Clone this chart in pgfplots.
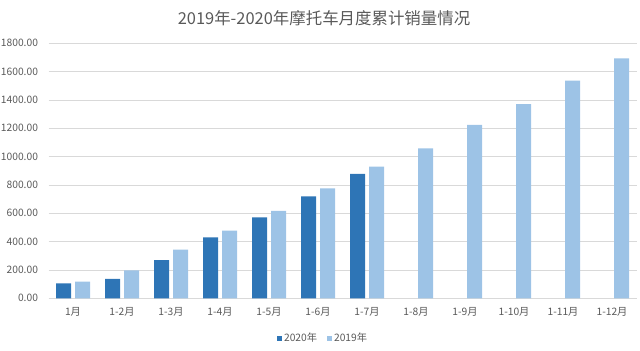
\documentclass[border=0pt]{standalone}
\usepackage{pgfplots}
\pgfplotsset{compat=1.18}
\usepackage{fontspec}
\setmainfont{Noto Sans CJK SC}
\definecolor{cA}{HTML}{2E75B6}
\definecolor{cB}{HTML}{9DC3E6}
\definecolor{txt}{HTML}{595959}
\definecolor{gridc}{HTML}{D9D9D9}
\begin{document}
\begin{tikzpicture}[x=1bp,y=1bp]
\useasboundingbox (0,0) rectangle (640,350);
\node[text=txt, font=\fontsize{16.5}{19}\selectfont] at (324,332) {2019年-2020年摩托车月度累计销量情况};
\begin{axis}[
  at={(48.5bp,51.7bp)}, anchor=south west,
  scale only axis, width=588bp, height=255bp,
  xmin=-0.5, xmax=11.5, ymin=0, ymax=1800,
  ytick={0,200,...,1800},
  xtick={0,...,11},
  xticklabels={1月,1-2月,1-3月,1-4月,1-5月,1-6月,1-7月,1-8月,1-9月,1-10月,1-11月,1-12月},
  axis x line*=bottom, axis y line*=left,
  x axis line style={draw=gridc, line width=0.75bp, -},
  y axis line style={draw=none},
  major tick length=0pt,
  ymajorgrids, major grid style={draw=gridc, line width=0.75bp},
  tick label style={text=txt, font=\fontsize{10.3}{12}\selectfont},
  /pgf/number format/assume math mode=true,
  yticklabel style={xshift=-7bp, /pgf/number format/.cd, fixed, fixed zerofill, precision=2, 1000 sep={}},
  xticklabel style={yshift=-6bp},
  ybar, bar width=15bp,
  legend columns=2,
  legend style={draw=none, fill=none, at={(0.467,-0.156)}, anchor=center,
    font=\fontsize{10.3}{12}\selectfont, text=txt,
    /tikz/every even column/.append style={column sep=8bp}},
  legend image code/.code={\fill[#1] (0bp,-2.5bp) rectangle (5bp,2.5bp);},
]
\addplot[fill=cA, draw=none, bar shift=-9.5bp] coordinates {
(0,106) (1,138) (2,270) (3,430) (4,572) (5,720) (6,879)};
\addplot[fill=cB, draw=none, bar shift=9.5bp] coordinates {
(0,117) (1,198) (2,343) (3,477) (4,618) (5,776) (6,929) (7,1059) (8,1225) (9,1371) (10,1536) (11,1694)};
\legend{2020年,2019年}
\end{axis}
\end{tikzpicture}
\end{document}
